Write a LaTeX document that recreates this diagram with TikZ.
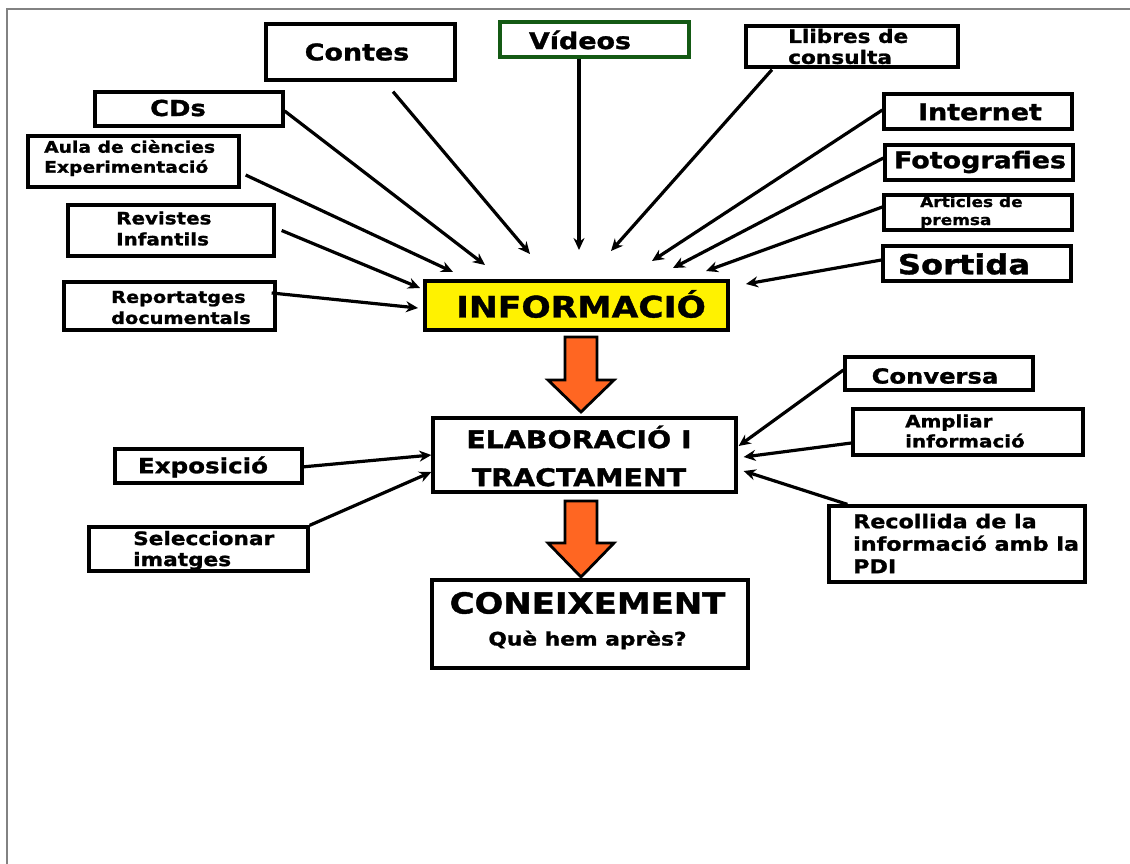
\documentclass[tikz,border=0pt]{standalone}
\usepackage{fontspec}
\newfontfamily\vfont{DejaVu Sans}[FakeStretch=1.17, BoldFeatures={FakeBold=1.3}]
\usetikzlibrary{arrows.meta,calc}
\definecolor{orng}{RGB}{255,102,34}
\definecolor{vgreen}{RGB}{20,90,20}
\definecolor{framegray}{RGB}{130,130,130}
\newcommand{\fsz}[2]{\vfont\bfseries\fontsize{#1}{#2}\selectfont}
\tikzset{
  box/.style={draw=black, line width=3.3pt, fill=white, rectangle, inner sep=0pt},
  txt/.style={inner sep=0pt, align=left, text=black},
  conn/.style={line width=3.2pt, -{Stealth[length=12pt,width=11pt]}},
  bigarrow/.style={fill=orng, draw=black, line width=2.8pt, line join=miter},
}
\begin{document}
\begin{tikzpicture}[x=1pt,y=-1pt]
\useasboundingbox (0,0) rectangle (1130,864);
\fill[white] (0,0) rectangle (1130,864);
\draw[framegray, line width=1.2pt] (7,864) -- (7,9) -- (1130,9);

% boxes
\node[box, minimum width=189, minimum height=56] (contes) at (360.5,52) {};
\node[box, draw=vgreen, minimum width=189, minimum height=35] (vid) at (594.5,39.5) {};
\node[box, minimum width=212, minimum height=41] (llib) at (852,46.5) {};
\node[box, minimum width=188, minimum height=34] (cds) at (189,109) {};
\node[box, minimum width=211, minimum height=51] (aula) at (133.5,161.5) {};
\node[box, minimum width=206, minimum height=51] (rev) at (171,230.5) {};
\node[box, minimum width=211, minimum height=48] (rep) at (169.5,306) {};
\node[box, fill=yellow, minimum width=303, minimum height=49] (info) at (576.5,305.5) {};
\node[box, minimum width=188, minimum height=35] (int) at (978,111.5) {};
\node[box, minimum width=188, minimum height=35] (foto) at (979,162.5) {};
\node[box, minimum width=188, minimum height=35] (art) at (978,212.5) {};
\node[box, minimum width=188, minimum height=35] (sort) at (977,263.5) {};
\node[box, minimum width=303, minimum height=74] (elab) at (584.5,455) {};
\node[box, minimum width=316, minimum height=88] (con) at (590,624) {};
\node[box, minimum width=187, minimum height=34] (expo) at (208.5,466) {};
\node[box, minimum width=219, minimum height=44] (sel) at (198.5,549) {};
\node[box, minimum width=188, minimum height=33] (conv) at (939,373.5) {};
\node[box, minimum width=230, minimum height=46] (amp) at (968,432) {};
\node[box, minimum width=256, minimum height=76] (rec) at (957,544) {};

% texts
\node[txt, font=\fsz{23}{28}] (contes-t) at (357,52) {Contes};
\node[txt, font=\fsz{23}{28}] (vid-t) at (580,40) {Vídeos};
\node[txt, anchor=west, font=\fsz{18.5}{21}] (llib-t) at (788,46.5) {Llibres de\\consulta};
\node[txt, font=\fsz{22}{26}] (cds-t) at (178,108) {CDs};
\node[txt, anchor=west, font=\fsz{16}{20}] (aula-t) at (44,158) {Aula de ciències\\Experimentació};
\node[txt, anchor=west, font=\fsz{17}{21}] (rev-t) at (116,228.5) {Revistes\\Infantils};
\node[txt, anchor=west, font=\fsz{16.5}{21}] (rep-t) at (111,307.5) {Reportatges\\documentals};
\node[txt, font=\fsz{29.5}{33}] (info-t) at (581,304) {INFORMACIÓ};
\node[txt, font=\fsz{23}{28}] (int-t) at (980,112) {Internet};
\node[txt, font=\fsz{23}{28}] (foto-t) at (980,162) {Fotografies};
\node[txt, anchor=west, font=\fsz{14.5}{18}] (art-t) at (920,212) {Articles de\\premsa};
\node[txt, font=\fsz{27.5}{30}] (sort-t) at (964,264) {Sortida};
\node[txt, align=center, font=\fsz{24.3}{38}] (elab-t) at (579,456) {ELABORACIÓ I\\TRACTAMENT};
\node[txt, font=\fsz{29}{32}] (con-t) at (587.5,603) {CONEIXEMENT};
\node[txt, font=\fsz{18.6}{22}] (con-t2) at (587.5,640) {Què hem après?};
\node[txt, font=\fsz{21}{25}] (expo-t) at (203,467) {Exposició};
\node[txt, anchor=west, font=\fsz{18.5}{21}] (sel-t) at (133,550.5) {Seleccionar\\imatges};
\node[txt, font=\fsz{20.7}{25}] (conv-t) at (935,376) {Conversa};
\node[txt, anchor=west, font=\fsz{17}{20}] (amp-t) at (905,431) {Ampliar\\informació};
\node[txt, anchor=west, font=\fsz{19}{22.5}] (rec-t) at (853,543.5) {Recollida de la\\informació amb la\\PDI};

% arrow ends near INFORMACIÓ
\coordinate (eCDs) at (485,265);
\coordinate (eContes) at (530,254);
\coordinate (eVid) at (579,250);
\coordinate (eLlib) at (611,251);
\coordinate (eAula) at (453,272);
\coordinate (eRev) at (420,288);
\coordinate (eRep) at (418,308);
\coordinate (eInt) at (652,261);
\coordinate (eFoto) at (673,268);
\coordinate (eArt) at (706,271);
\coordinate (eSort) at (746,284);

% connectors
\draw[conn] ([shift={(32.5,10)}]contes.south) -- (eContes);
\draw[conn] ([shift={(-15.5,0)}]vid.south) -- (eVid);
\draw[conn] ([shift={(-80,1)}]llib.south) -- (eLlib);
\draw[conn] ([shift={(0,2)}]cds.east) -- (eCDs);
\draw[conn] ([shift={(5,13.5)}]aula.east) -- (eAula);
\draw[conn] ([shift={(6,0)}]rev.east) -- (eRev);
\draw[conn] ([shift={(-5,-13)}]rep.east) -- (eRep);
\draw[conn] ([shift={(0,-1.5)}]int.west) -- (eInt);
\draw[conn] ([shift={(0,-4.5)}]foto.west) -- (eFoto);
\draw[conn] ([shift={(0,-5.5)}]art.west) -- (eArt);
\draw[conn] ([shift={(0,-3.5)}]sort.west) -- (eSort);

\draw[conn] ([shift={(-2,1)}]expo.east) -- (elab.west);
\draw[conn] (sel.north east) -- ([shift={(0,17)}]elab.west);
\draw[conn] ([shift={(0,-3.5)}]conv.west) -- ([shift={(1,-9)}]elab.east);
\draw[conn] ([shift={(0,11)}]amp.west) -- ([shift={(6,2)}]elab.east);
\draw[conn] ([shift={(20,0)}]rec.north west) -- ([shift={(6,16)}]elab.east);

% block arrows
\draw[bigarrow] (565,337) -- (597,337) -- (597,380) -- (614,380) -- (581,412) -- (548,380) -- (565,380) -- cycle;
\draw[bigarrow] (565,501) -- (597,501) -- (597,543) -- (614,543) -- (581,577) -- (548,543) -- (565,543) -- cycle;
\end{tikzpicture}
\end{document}
